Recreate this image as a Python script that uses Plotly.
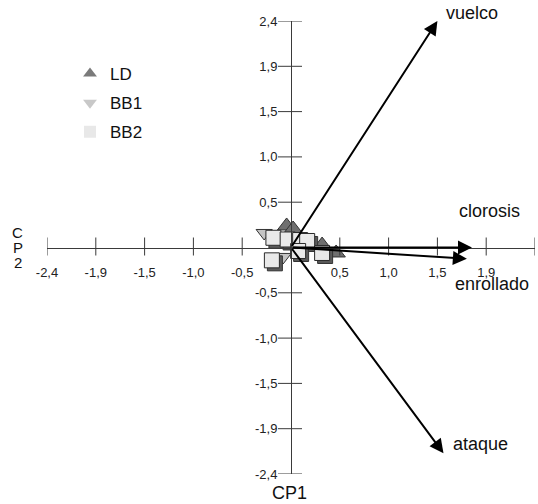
import plotly.graph_objects as go

# ---------------- data ----------------
# Loadings (arrows)
VAR_NAMES = ["vuelco", "clorosis", "enrollado", "ataque"]
VAR_CP1 = [1.44, 1.78, 1.73, 1.50]
VAR_CP2 = [2.40, 0.00, -0.12, -2.18]

# Scores by group
LD_X = [-0.043, 0.021, 0.306, 0.444]
LD_Y = [0.228, 0.196, 0.026, -0.058]
BB1_X = [-0.264, 0.070, -0.077]
BB1_Y = [0.154, 0.048, -0.100]
BB2_X = [-0.173, -0.033, 0.090, 0.159, 0.070, -0.188, 0.306]
BB2_Y = [0.103, 0.085, 0.079, 0.069, -0.037, -0.136, -0.058]

GROUPS = ["LD", "BB1", "BB2"]

# Axis ticks
TICK_VALUES = [-2.4, -1.92, -1.44, -0.96, -0.48, 0.48, 0.96, 1.44, 1.92, 2.4]
X_TICK_LABELS = ["-2,4", "-1,9", "-1,5", "-1,0", "-0,5", "0,5", "1,0", "1,5", "1,9", "2,4"]
Y_TICK_LABELS = ["-2,4", "-1,9", "-1,5", "-1,0", "-0,5", "0,5", "1,0", "1,5", "1,9", "2,4"]
X_TITLE = "CP2"
Y_TITLE = "CP1"

# ---------------- style ----------------
W, H = 538, 504
ML, MR, MT, MB = 47, 3, 21, 30
PW, PH = W - ML - MR, H - MT - MB
FONT = "Liberation Sans, Arial, Helvetica, sans-serif"
AXC = "#3a3a3a"
PX_PER_X = PW / 4.8
PX_PER_Y = PH / 4.8

# label offsets (pixels) relative to arrow tips
LABEL_SHIFT = {"vuelco": (35, 8), "clorosis": (18, 37), "enrollado": (25, -25), "ataque": (37, 9)}

fig = go.Figure()

# BB1 (behind)
fig.add_trace(go.Scatter(x=BB1_X, y=BB1_Y, mode="markers", showlegend=False,
                         marker=dict(symbol="triangle-down", size=14, color="#c4c4c4",
                                     line=dict(color="#333", width=1))))
# LD
fig.add_trace(go.Scatter(x=LD_X, y=LD_Y, mode="markers", showlegend=False,
                         marker=dict(symbol="triangle-up", size=16, color="#6f6f6f",
                                     line=dict(color="#333", width=1))))
# BB2 shadows + squares
sdx = 3 / PX_PER_X
sdy = 3 / PX_PER_Y
fig.add_trace(go.Scatter(x=[v + sdx for v in BB2_X], y=[v - sdy for v in BB2_Y], mode="markers",
                         showlegend=False,
                         marker=dict(symbol="square", size=15, color="#5a5a5a",
                                     line=dict(color="#333", width=1))))
fig.add_trace(go.Scatter(x=BB2_X, y=BB2_Y, mode="markers", showlegend=False,
                         marker=dict(symbol="square", size=15, color="#e9e9e9",
                                     line=dict(color="#2a2a2a", width=1))))

# legend-only entries
legend_styles = {
    "LD": dict(symbol="triangle-up", color="#7a7a7a"),
    "BB1": dict(symbol="triangle-down", color="#c8c8c8"),
    "BB2": dict(symbol="square", color="#e8e8e8"),
}
for g in GROUPS:
    st = legend_styles[g]
    fig.add_trace(go.Scatter(x=[None], y=[None], mode="markers", name=g, legendgroup=g,
                             marker=dict(symbol=st["symbol"], size=16, color=st["color"],
                                         line=dict(width=0))))

# arrows and labels
for name, vx, vy in zip(VAR_NAMES, VAR_CP1, VAR_CP2):
    fig.add_annotation(x=vx, y=vy, ax=0, ay=0, xref="x", yref="y", axref="x", ayref="y",
                       text="", showarrow=True, arrowhead=2, arrowsize=1.4, arrowwidth=2,
                       arrowcolor="black", standoff=0, startstandoff=0)
    dx, dy = LABEL_SHIFT[name]
    fig.add_annotation(x=vx, y=vy, xref="x", yref="y", text=name, showarrow=False,
                       xshift=dx, yshift=dy, xanchor="center", yanchor="middle",
                       font=dict(family=FONT, size=18, color="#111"))

# crossing tick marks
for v in TICK_VALUES:
    fig.add_shape(type="line", xref="x", yref="y", x0=v, x1=v, ysizemode="pixel", yanchor=0,
                  y0=-8, y1=10, line=dict(color=AXC, width=1))
    fig.add_shape(type="line", xref="x", yref="y", y0=v, y1=v, xsizemode="pixel", xanchor=0,
                  x0=-13, x1=11, line=dict(color=AXC, width=1))

# axis titles
fig.add_annotation(x=0, y=-2.4, xref="x", yref="y", text=Y_TITLE, showarrow=False,
                   yshift=-19, xshift=-2, xanchor="center", yanchor="middle",
                   font=dict(family=FONT, size=18, color="#111"))
for i, ch in enumerate(X_TITLE):
    fig.add_annotation(x=0, y=0, xref="paper", yref="y", text=ch, showarrow=False,
                       xshift=-29.5, yshift=(1 - i) * 15, xanchor="center", yanchor="middle",
                       font=dict(family=FONT, size=15, color="#111"))

fig.update_layout(
    width=W, height=H,
    margin=dict(l=ML, r=MR, t=MT, b=MB, pad=0, autoexpand=False),
    paper_bgcolor="white", plot_bgcolor="white",
    font=dict(family=FONT, size=13, color="#222"),
    xaxis=dict(range=[-2.4, 2.4], anchor="free", position=0.5, showline=True, linecolor=AXC,
               linewidth=1, ticks="", tickvals=TICK_VALUES, ticktext=X_TICK_LABELS,
               showgrid=False, zeroline=False, ticklabelstandoff=13, automargin=False,
               tickfont=dict(family=FONT, size=13, color="#222")),
    yaxis=dict(range=[-2.4, 2.4], anchor="free", position=0.5, showline=True, linecolor=AXC,
               linewidth=1, ticks="", tickvals=TICK_VALUES, ticktext=Y_TICK_LABELS,
               showgrid=False, zeroline=False, ticklabelstandoff=11, automargin=False,
               tickfont=dict(family=FONT, size=13, color="#222")),
    showlegend=True,
    legend=dict(x=(70 - ML) / PW, y=1 - (56 - MT) / PH, xanchor="left", yanchor="top",
                bgcolor="rgba(0,0,0,0)",
                font=dict(family=FONT, size=17, color="#111"), tracegroupgap=4,
                itemsizing="constant"),
)

fig.write_html("out.html", config={"displayModeBar": False},
               post_script="document.body.style.margin='0';document.body.style.overflow='hidden';")
